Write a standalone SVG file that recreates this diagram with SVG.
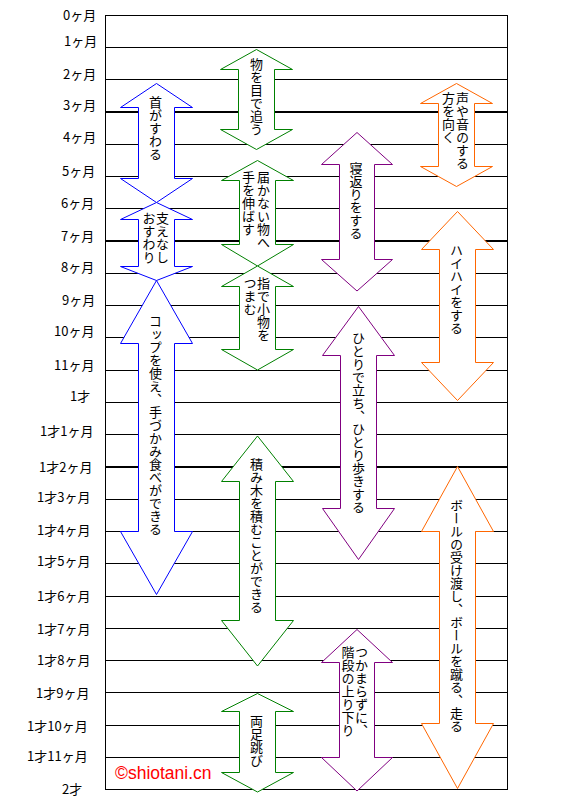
<svg xmlns="http://www.w3.org/2000/svg" width="567" height="805" viewBox="0 0 567 805">
<style>
.lbl{font-family:"Noto Sans CJK JP","Noto Sans",sans-serif;font-size:13px;fill:#000}
.vt{font-family:"Noto Sans CJK JP",sans-serif;font-size:13px;fill:#000;writing-mode:vertical-rl}
.g{stroke:#000;stroke-width:1;fill:none}
.gt{stroke:#000;stroke-width:2;fill:none}
.arr{fill:#fff;stroke-width:1}
.blue{stroke:#0000ff}.green{stroke:#008000}.purple{stroke:#800080}.orange{stroke:#ff6600}
</style>
<rect width="567" height="805" fill="#fff"/>
<g id="grid">
<rect class="g" x="105.5" y="15.5" width="402" height="774"/>
<path class="g" d="M105 47.5H507M105 79.5H507M105 144.5H507M105 176.5H507M105 208.5H507M105 273.5H507M105 305.5H507M105 337.5H507M105 370.5H507M105 402.5H507M105 434.5H507M105 499.5H507M105 531.5H507M105 563.5H507M105 596.5H507M105 628.5H507M105 660.5H507M105 692.5H507M105 725.5H507M105 757.5H507"/>
<path class="gt" d="M105 112H507M105 241H507M105 467H507"/>
</g>
<g id="labels">
<text class="lbl" x="63" y="20">0ヶ月</text>
<text class="lbl" x="64" y="46">1ヶ月</text>
<text class="lbl" x="63" y="79">2ヶ月</text>
<text class="lbl" x="63" y="110">3ヶ月</text>
<text class="lbl" x="63" y="142">4ヶ月</text>
<text class="lbl" x="62" y="176">5ヶ月</text>
<text class="lbl" x="61" y="208">6ヶ月</text>
<text class="lbl" x="61" y="241">7ヶ月</text>
<text class="lbl" x="61" y="272">8ヶ月</text>
<text class="lbl" x="62" y="305">9ヶ月</text>
<text class="lbl" x="54" y="336">10ヶ月</text>
<text class="lbl" x="54" y="370">11ヶ月</text>
<text class="lbl" x="70" y="401">1才</text>
<text class="lbl" x="40" y="436">1才1ヶ月</text>
<text class="lbl" x="39" y="472">1才2ヶ月</text>
<text class="lbl" x="37" y="502">1才3ヶ月</text>
<text class="lbl" x="37" y="535">1才4ヶ月</text>
<text class="lbl" x="37" y="566">1才5ヶ月</text>
<text class="lbl" x="37" y="601">1才6ヶ月</text>
<text class="lbl" x="37" y="634">1才7ヶ月</text>
<text class="lbl" x="37" y="665">1才8ヶ月</text>
<text class="lbl" x="36" y="698">1才9ヶ月</text>
<text class="lbl" x="27" y="731">1才10ヶ月</text>
<text class="lbl" x="27" y="761">1才11ヶ月</text>
<text class="lbl" x="62" y="794">2才</text>
</g>
<g id="b1"><polygon class="arr blue" points="156.5,83.5 192.5,107.5 174.5,107.5 174.5,178.5 192.5,178.5 156.5,202.5 120.5,178.5 138.5,178.5 138.5,107.5 120.5,107.5"/><text class="vt" x="155.5" y="96">首がすわる</text></g>
<g id="b2"><polygon class="arr blue" points="156.5,202.5 192.5,219.5 174.5,219.5 174.5,266.5 192.5,266.5 156.5,280.5 120.5,266.5 138.5,266.5 138.5,219.5 120.5,219.5"/><text class="vt" x="162.5" y="212">支えなし</text><text class="vt" x="149" y="212">おすわり</text></g>
<g id="b3"><polygon class="arr blue" points="156.5,280.5 192.5,343.5 174.5,343.5 174.5,531.5 192.5,531.5 156.5,594.5 120.5,531.5 138.5,531.5 138.5,343.5 120.5,343.5"/><text class="vt" x="155.5" y="315">コップを使え、手づかみ食べができる</text></g>
<g id="g1"><polygon class="arr green" points="256.5,49.5 292.5,69.5 274.5,69.5 274.5,129.5 292.5,129.5 256.5,149.5 220.5,129.5 238.5,129.5 238.5,69.5 220.5,69.5"/><text class="vt" x="256.5" y="58">物を目で追う</text></g>
<g id="g2"><polygon class="arr green" points="257.5,160.5 293.5,180.5 275.5,180.5 275.5,244.5 293.5,244.5 257.5,266 221.5,244.5 239.5,244.5 239.5,180.5 221.5,180.5"/><text class="vt" x="263.5" y="171">届かない物へ</text><text class="vt" x="248.5" y="171">手を伸ばす</text></g>
<g id="g3"><polygon class="arr green" points="257.5,266 293.5,286.5 275.5,286.5 275.5,349.5 293.5,349.5 257.5,370 221.5,349.5 239.5,349.5 239.5,286.5 221.5,286.5"/><text class="vt" x="263.5" y="277">指で小物を</text><text class="vt" x="250" y="277">つまむ</text></g>
<g id="g4"><polygon class="arr green" points="257.5,436 293.5,481.5 275.5,481.5 275.5,620.5 293.5,620.5 257.5,666 221.5,620.5 239.5,620.5 239.5,481.5 221.5,481.5"/><text class="vt" x="256.5" y="458">積み木を積むことができる</text></g>
<g id="g5"><polygon class="arr green" points="257.5,693.5 293.5,711.5 275.5,711.5 275.5,772.5 293.5,772.5 257.5,792 221.5,772.5 239.5,772.5 239.5,711.5 221.5,711.5"/><text class="vt" x="256.5" y="715">両足跳び</text></g>
<g id="p1"><polygon class="arr purple" points="357,132.5 392.5,164.5 374.5,164.5 374.5,259.5 392.5,259.5 357,291 321.5,259.5 339.5,259.5 339.5,164.5 321.5,164.5"/><text class="vt" x="356" y="162">寝返りをする</text></g>
<g id="p2"><polygon class="arr purple" points="358.5,306.5 394.5,355.5 376.5,355.5 376.5,508.5 394.5,508.5 358.5,559.5 322.5,508.5 340.5,508.5 340.5,355.5 322.5,355.5"/><text class="vt" x="358.5" y="332">ひとりで立ち、ひとり歩きする</text></g>
<g id="p3"><polygon class="arr purple" points="357,629.5 392.5,662.5 374.5,662.5 374.5,757.5 392.5,757.5 357,791 321.5,757.5 339.5,757.5 339.5,662.5 321.5,662.5"/><text class="vt" x="361.5" y="646">つかまらずに、</text><text class="vt" x="348" y="646">階段の上り下り</text></g>
<g id="o1"><polygon class="arr orange" points="456.5,83.5 492.5,103.5 474.5,103.5 474.5,166.5 492.5,166.5 456.5,186.5 420.5,166.5 438.5,166.5 438.5,103.5 420.5,103.5"/><text class="vt" x="462.5" y="92">声や音のする</text><text class="vt" x="448.5" y="92">方を向く</text></g>
<g id="o2"><polygon class="arr orange" points="457.5,211.5 493.5,249.5 475.5,249.5 475.5,362.5 493.5,362.5 457.5,400.5 421.5,362.5 439.5,362.5 439.5,249.5 421.5,249.5"/><text class="vt" x="456.5" y="244">ハイハイをする</text></g>
<g id="o3"><polygon class="arr orange" points="457.5,466.5 493.5,531.5 475.5,531.5 475.5,723.5 493.5,723.5 457.5,788.5 421.5,723.5 439.5,723.5 439.5,531.5 421.5,531.5"/><text class="vt" x="456.5" y="499">ボールの受け渡し、ボールを蹴る、走る</text></g>
<g id="connectors"></g>
<text x="115" y="779" font-family="Liberation Sans, Arial, sans-serif" font-size="17.5px" fill="#ff0000">©shiotani.cn</text>
</svg>
